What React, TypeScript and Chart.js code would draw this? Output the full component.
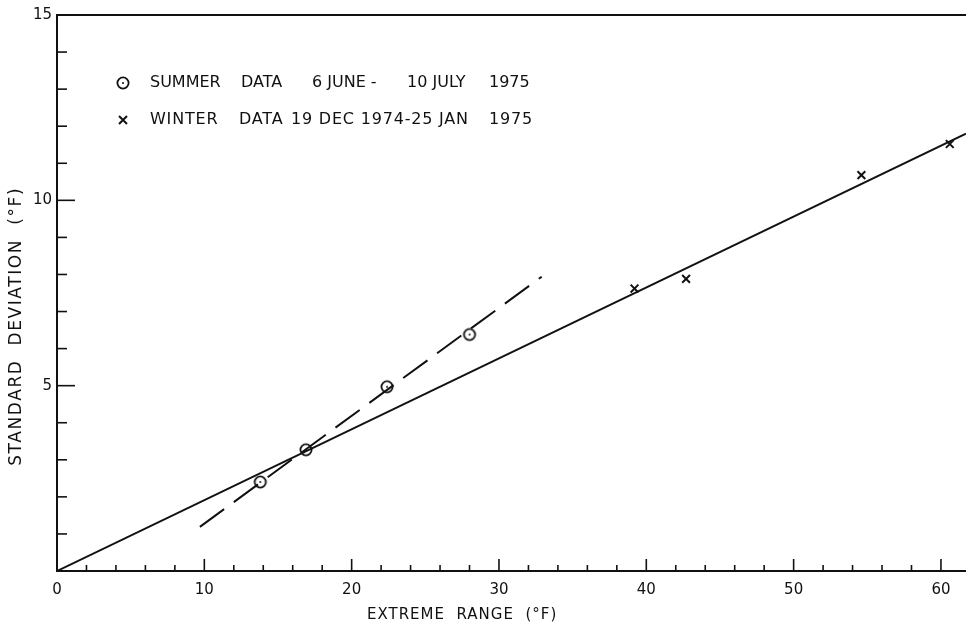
import React, { useEffect, useRef } from 'react';
import { Chart, registerables } from 'chart.js';

Chart.register(...registerables);

// ---- data ----
const summerRange = [13.8, 16.9, 22.4, 28.0];
const summerStd = [2.4, 3.27, 4.97, 6.38];
const winterRange = [39.2, 42.7, 54.6, 60.6];
const winterStd = [7.62, 7.88, 10.68, 11.52];
const solidFitRange = [0, 61.7];
const solidFitStd = [0, 11.8];
const dashedFitRange = [9.7, 32.9];
const dashedFitStd = [1.19, 7.94];
const xTickLabels = ['0', '10', '20', '30', '40', '50', '60'];
const yTickLabels = ['5', '10', '15'];
const xTitle = 'EXTREME  RANGE  (°F)';
const yTitle = 'STANDARD  DEVIATION  (°F)';
const summerLegend = ['SUMMER', 'DATA', '6 JUNE -', '10 JULY', '1975'];
const winterLegend = ['WINTER', 'DATA', '19 DEC 1974-25 JAN', '1975'];

const FONT = '"DejaVu Sans", sans-serif';
const INK = '#111';

function makeCircleMarker(): HTMLCanvasElement {
  const c = document.createElement('canvas');
  c.width = 16;
  c.height = 16;
  const g = c.getContext('2d')!;
  g.strokeStyle = INK;
  g.lineWidth = 1.8;
  g.beginPath();
  g.arc(8, 8, 5.6, 0, Math.PI * 2);
  g.stroke();
  g.fillStyle = INK;
  g.beginPath();
  g.arc(8, 8, 1, 0, Math.PI * 2);
  g.fill();
  return c;
}

const pairs = (xs: number[], ys: number[]) => xs.map((x, i) => ({ x, y: ys[i] }));

export default function App() {
  const ref = useRef<HTMLCanvasElement | null>(null);

  useEffect(() => {
    if (!ref.current) return;
    const marker = makeCircleMarker();

    const decor = {
      id: 'decor',
      afterDraw(chart: any) {
        const { ctx, chartArea, scales } = chart;
        const xs = scales.x;
        const ys = scales.y;
        ctx.save();
        ctx.strokeStyle = INK;
        ctx.fillStyle = INK;
        ctx.lineWidth = 2;
        // top frame line
        ctx.beginPath();
        ctx.moveTo(chartArea.left - 1, chartArea.top);
        ctx.lineTo(chartArea.right, chartArea.top);
        ctx.stroke();
        // inward tick marks, y
        ctx.lineWidth = 1.6;
        for (let v = 1; v <= 15; v++) {
          const py = ys.getPixelForValue(v);
          const len = v % 5 === 0 ? 18 : 10;
          ctx.beginPath();
          ctx.moveTo(chartArea.left, py);
          ctx.lineTo(chartArea.left + len, py);
          ctx.stroke();
        }
        // inward tick marks, x
        for (let v = 2; v <= 60; v += 2) {
          const px = xs.getPixelForValue(v);
          const len = v % 10 === 0 ? 12 : 6;
          ctx.beginPath();
          ctx.moveTo(px, chartArea.bottom);
          ctx.lineTo(px, chartArea.bottom - len);
          ctx.stroke();
        }
        // axis titles
        ctx.textBaseline = 'middle';
        ctx.textAlign = 'center';
        ctx.font = `15px ${FONT}`;
        (ctx as any).letterSpacing = '1px';
        ctx.fillText(xTitle, xs.getPixelForValue(27.5), 615);
        ctx.save();
        ctx.translate(17, ys.getPixelForValue(6.6));
        ctx.rotate(-Math.PI / 2);
        ctx.font = `17px ${FONT}`;
        (ctx as any).letterSpacing = '1.6px';
        ctx.fillText(yTitle, 0, 0);
        ctx.restore();
        // legend
        (ctx as any).letterSpacing = '0px';
        ctx.font = `16px ${FONT}`;
        ctx.textAlign = 'left';
        const summerCols = [150, 241, 312, 407, 489];
        const winterCols = [150, 239, 291, 489];
        const rowS = 83;
        const rowW = 120;
        ctx.drawImage(marker, 123 - 8, rowS - 8);
        summerLegend.forEach((t, i) => ctx.fillText(t, summerCols[i], rowS));
        ctx.lineWidth = 2;
        ctx.beginPath();
        ctx.moveTo(119, rowW - 4);
        ctx.lineTo(127, rowW + 4);
        ctx.moveTo(127, rowW - 4);
        ctx.lineTo(119, rowW + 4);
        ctx.stroke();
        (ctx as any).letterSpacing = '0.8px';
        winterLegend.forEach((t, i) => ctx.fillText(t, winterCols[i], rowW));
        ctx.restore();
      },
    };

    const chart = new Chart(ref.current, {
      type: 'scatter',
      data: {
        datasets: [
          {
            label: 'Summer data',
            data: pairs(summerRange, summerStd),
            pointStyle: marker as any,
            pointRadius: 6,
            showLine: false,
          },
          {
            label: 'Winter data',
            data: pairs(winterRange, winterStd),
            pointStyle: 'crossRot',
            pointRadius: 5.5,
            borderColor: INK,
            borderWidth: 2,
            showLine: false,
          },
          {
            label: 'Fit (all)',
            data: pairs(solidFitRange, solidFitStd),
            showLine: true,
            pointRadius: 0,
            borderColor: INK,
            borderWidth: 2,
          },
          {
            label: 'Fit (summer)',
            data: pairs(dashedFitRange, dashedFitStd),
            showLine: true,
            pointRadius: 0,
            borderColor: INK,
            borderWidth: 2,
            borderDash: [30, 12],
          },
        ],
      },
      options: {
        responsive: false,
        animation: false,
        devicePixelRatio: 1,
        layout: { autoPadding: false, padding: { top: 15, right: 0, left: 0, bottom: 0 } },
        plugins: { legend: { display: false }, tooltip: { enabled: false } },
        scales: {
          x: {
            type: 'linear',
            min: 0,
            max: 61.7,
            afterBuildTicks: (s: any) => {
              s.ticks = xTickLabels.map((t) => ({ value: Number(t) }));
            },
            afterFit: (s: any) => {
              s.height = 55;
              s.paddingRight = 0;
              s.paddingLeft = 0;
            },
            grid: { display: false, drawTicks: false },
            border: { display: true, color: INK, width: 2 },
            ticks: {
              color: INK,
              font: { family: FONT, size: 15 },
              padding: 10,
              maxRotation: 0,
              autoSkip: false,
              callback: (v: any) => String(v),
            },
          },
          y: {
            type: 'linear',
            min: 0,
            max: 15,
            afterBuildTicks: (s: any) => {
              s.ticks = [{ value: 0 }, ...yTickLabels.map((t) => ({ value: Number(t) }))];
            },
            afterFit: (s: any) => {
              s.width = 57;
            },
            grid: { display: false, drawTicks: false },
            border: { display: true, color: INK, width: 2 },
            ticks: {
              color: INK,
              font: { family: FONT, size: 15 },
              padding: 5,
              autoSkip: false,
              callback: (v: any) => (v === 0 ? '' : String(v)),
            },
          },
        },
      },
      plugins: [decor],
    });
    return () => chart.destroy();
  }, []);

  return (
    <div style={{ position: 'fixed', left: 0, top: 0, width: 966, height: 626, background: '#fff' }}>
      <canvas ref={ref} width={966} height={626} />
    </div>
  );
}
